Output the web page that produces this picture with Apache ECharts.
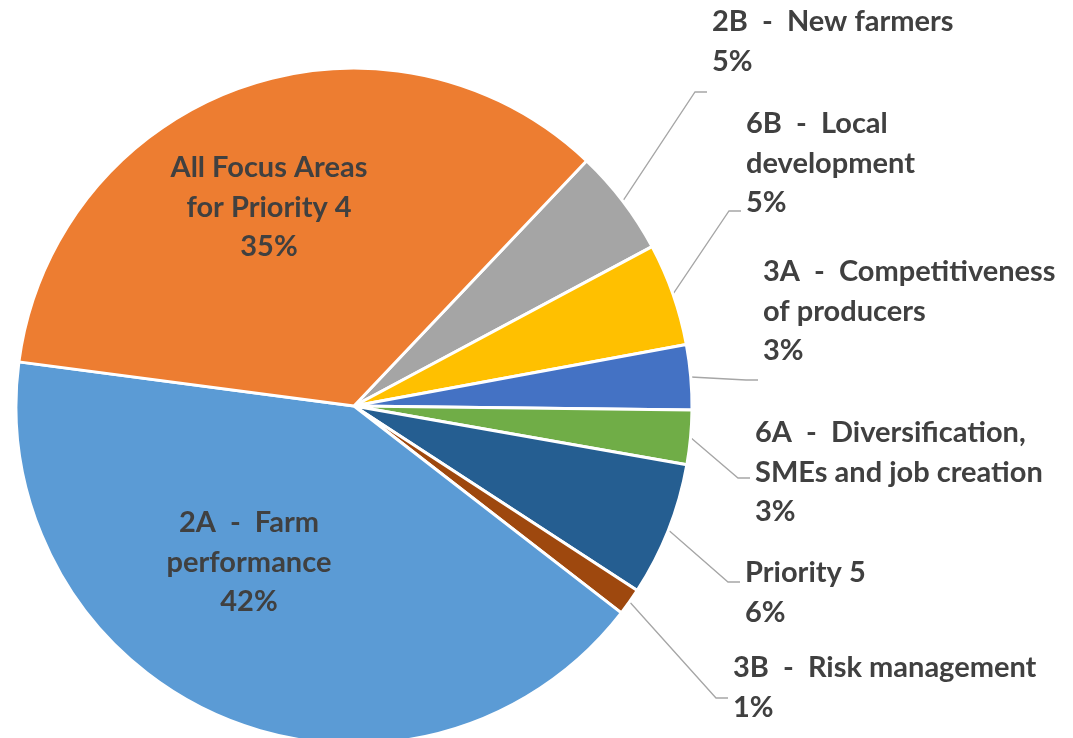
<!DOCTYPE html>
<html>
<head>
<meta charset="utf-8">
<script src="https://cdn.jsdelivr.net/npm/echarts@6/dist/echarts.min.js"></script>
<style>
html, body { margin: 0; padding: 0; background: #fff; }
#main { width: 1073px; height: 738px; }
</style>
</head>
<body>
<div id="main"></div>
<script>
// slices, clockwise from the 2B slice
var categories = ['2B  -  New farmers', '6B  -  Local\ndevelopment', '3A  -  Competitiveness\nof producers',
	'6A  -  Diversification,\nSMEs and job creation', 'Priority 5', '3B  -  Risk management',
	'2A  -  Farm\nperformance', 'All Focus Areas\nfor Priority 4'];
var shares = [5.1, 4.9, 3.1, 2.6, 6.4, 1.3, 41.6, 35.0];
var colors = ['#A5A5A5', '#FFC000', '#4472C4', '#70AD47', '#255E91', '#9E480E', '#5B9BD5', '#ED7D31'];
var insideLabel = [false, false, false, false, false, false, true, true];

// label placement: [text x, middle of first line y, leader end y]
var labelSpots = [
	[712, 22, 92],
	[746, 124, 211],
	[763, 272, 380],
	[755, 433, 478],
	[745, 573, 582],
	[733, 668, 698],
	[249, 523, null],
	[269, 168, null]
];
var lineH = 39.5;

var chart = echarts.init(document.getElementById('main'));

var pieData = [];
categories.forEach(function(name, i) {
	var item = {
		name: name,
		value: shares[i],
		itemStyle: { color: colors[i] }
	};
	if (insideLabel[i]) {
		item.label = { position: 'inside' };
		item.labelLine = { show: false };
	}
	pieData.push(item);
});

var option = {
	animation: false,
	series: [{
		type: 'pie',
		center: [354, 406],
		radius: 338,
		startAngle: 46.5,
		clockwise: true,
		percentPrecision: 0,
		avoidLabelOverlap: false,
		data: pieData,
		itemStyle: {
			borderColor: '#fff',
			borderWidth: 3
		},
		label: {
			show: true,
			position: 'outside',
			formatter: '{b}\n{d}%',
			fontFamily: 'Lato',
			fontWeight: 'bold',
			fontSize: 29,
			lineHeight: lineH,
			color: '#404040'
		},
		labelLine: {
			show: true,
			length: 10,
			length2: 10,
			lineStyle: { color: '#A6A6A6', width: 1.3 }
		},
		labelLayout: function(p) {
			var s = labelSpots[p.dataIndex];
			if (s[2] == null) {
				return { x: s[0], y: s[1] - lineH / 2, align: 'center', verticalAlign: 'top' };
			}
			var out = { x: s[0], y: s[1] - lineH / 2, align: 'left', verticalAlign: 'top' };
			var pts = p.labelLinePoints;
			if (pts) {
				out.labelLinePoints = [pts[0], [s[0] - 17, s[2]], [s[0] - 5, s[2]]];
			}
			return out;
		}
	}]
};
chart.setOption(option);
</script>
</body>
</html>
